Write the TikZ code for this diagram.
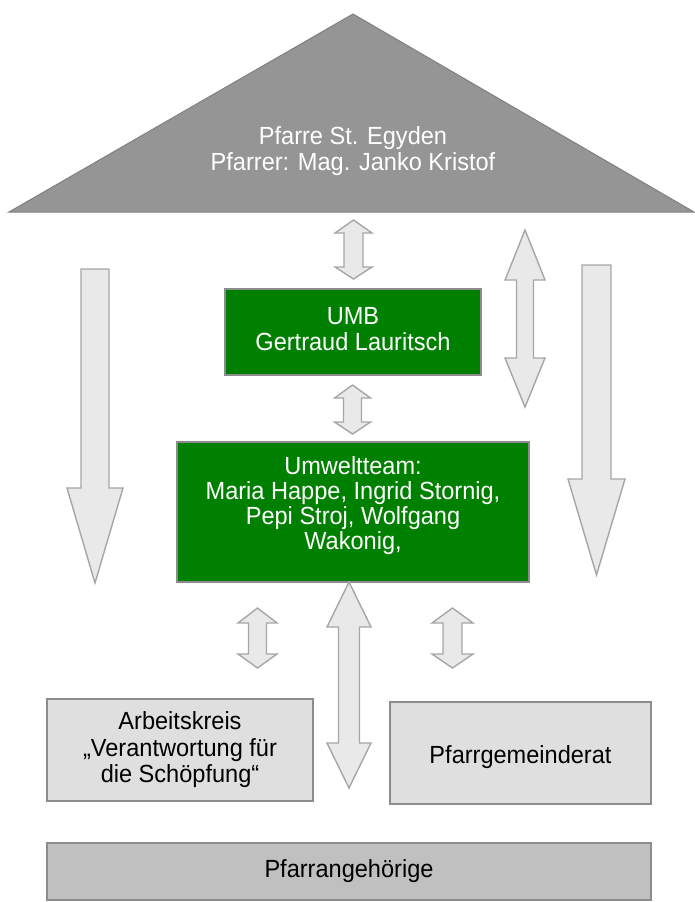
\documentclass[tikz,border=0pt]{standalone}
\usepackage{fontspec}
\setmainfont{Liberation Sans}[FakeStretch=0.95]
\usetikzlibrary{calc}
\definecolor{trifill}{HTML}{959595}
\definecolor{triedge}{HTML}{808080}
\definecolor{umgreen}{HTML}{008000}
\definecolor{boxedge}{HTML}{8C8C8C}
\definecolor{lightfill}{HTML}{DFDFDF}
\definecolor{darkfill}{HTML}{C0C0C0}
\definecolor{arrfill}{HTML}{E9E9E9}
\definecolor{arredge}{HTML}{A6A6A6}
\tikzset{
  txt/.style={font=\fontsize{24.8}{26.5}\selectfont, align=center, inner sep=0pt},
  greenbox/.style={draw=boxedge, line width=1.5pt, fill=umgreen, inner sep=0pt},
  lightbox/.style={draw=boxedge, line width=1.5pt, fill=lightfill, inner sep=0pt},
  darkbox/.style={draw=boxedge, line width=1.5pt, fill=darkfill, inner sep=0pt},
  blockarrow/.style={draw=arredge, line width=1.4pt, fill=arrfill, line join=miter}
}
% cx, top, headbase, tip, shaft half width, head half width
\newcommand\blockdown[6]{%
  \draw[blockarrow] (#1-#5,#2) -- (#1+#5,#2) -- (#1+#5,#3) -- (#1+#6,#3) -- (#1,#4)
    -- (#1-#6,#3) -- (#1-#5,#3) -- cycle;}
% cx, top, upper headbase, lower headbase, bottom, shaft half width, head half width
\newcommand\blockdbl[7]{%
  \draw[blockarrow] (#1,#2) -- (#1+#7,#3) -- (#1+#6,#3) -- (#1+#6,#4) -- (#1+#7,#4)
    -- (#1,#5) -- (#1-#7,#4) -- (#1-#6,#4) -- (#1-#6,#3) -- (#1-#7,#3) -- cycle;}
\begin{document}
\begin{tikzpicture}[x=1pt,y=-1pt]
\useasboundingbox (0,0) rectangle (694,902);
% roof
\coordinate (apex) at (353,14);
\coordinate (baseL) at (9,212);
\coordinate (baseR) at (694,212);
\draw[triedge, line width=1pt, fill=trifill] (apex) -- (baseR) -- (baseL) -- cycle;
\node[txt, text=white] (pfarre) at (353,151) {Pfarre St. Egyden\\Pfarrer: Mag. Janko Kristof};
% boxes
\node[greenbox, minimum width=256pt, minimum height=86pt] (umb) at (353,332) {};
\node[txt, text=white] (umbtxt) at ($(umb.center)+(0,-3)$) {UMB\\Gertraud Lauritsch};
\node[greenbox, minimum width=352pt, minimum height=140pt] (team) at (353,512) {};
\node[txt, text=white, font=\fontsize{24.8}{25}\selectfont] (teamtxt) at ($(team.center)+(0,-6)$)
  {Umweltteam:\\Maria Happe, Ingrid Stornig,\\Pepi Stroj, Wolfgang\\Wakonig,};
\node[lightbox, minimum width=266pt, minimum height=102pt] (ak) at (180,750) {};
\node[txt] (aktxt) at (ak.center) {Arbeitskreis\\„Verantwortung für\\die Schöpfung“};
\node[lightbox, minimum width=261pt, minimum height=102pt] (pgr) at (520.5,753) {};
\node[txt] (pgrtxt) at ($(pgr.center)+(0,4)$) {Pfarrgemeinderat};
\node[darkbox, minimum width=604pt, minimum height=57pt] (pa) at (349,871.5) {};
\node[txt] (patxt) at (pa.center) {Pfarrangehörige};
% block arrows
\blockdown{95}{269}{488}{583}{14}{28}
\blockdown{596.5}{265}{479}{575}{14.5}{28.5}
\blockdbl{353.5}{220}{233}{267}{279}{9.5}{18.5}
\blockdbl{352.5}{385}{398}{422}{434}{9}{18}
\blockdbl{525}{230}{280}{358}{407}{8.5}{20}
\blockdbl{349}{582}{627}{743}{788}{10.5}{22}
\blockdbl{257.5}{608}{623}{654}{668}{9}{19.5}
\blockdbl{452.5}{608}{623}{654}{668}{9.5}{20.5}
\end{tikzpicture}
\end{document}
